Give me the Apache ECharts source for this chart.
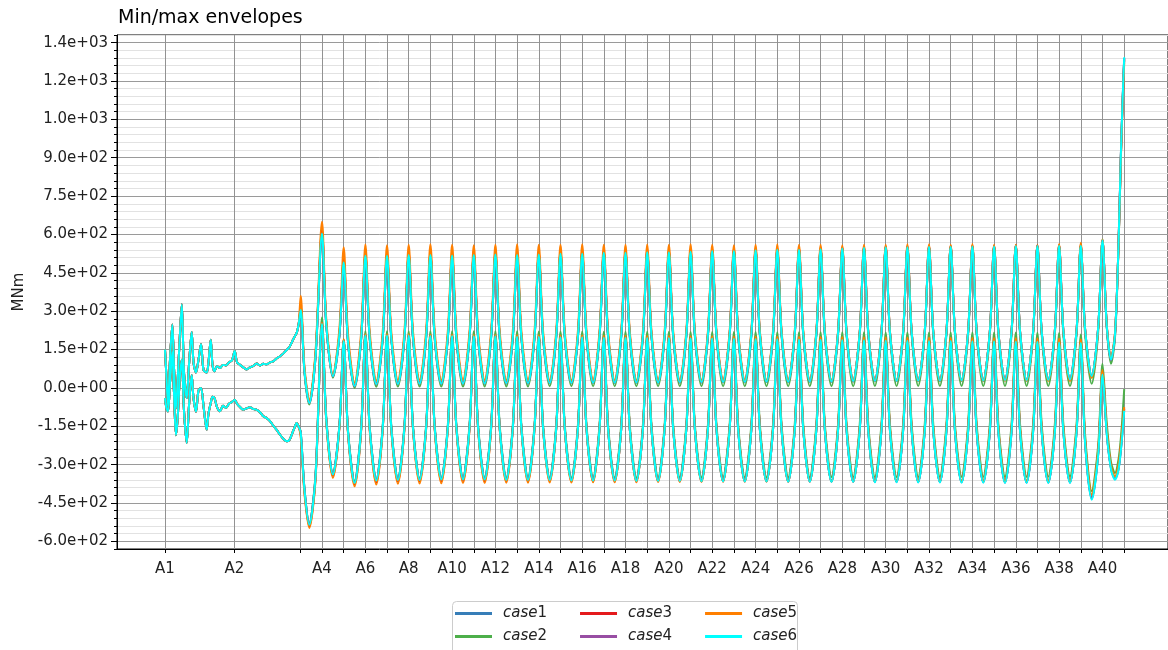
<!DOCTYPE html>
<html><head><meta charset="utf-8">
<script src="https://cdn.jsdelivr.net/npm/echarts@6/dist/echarts.min.js"></script>
<style>html,body{margin:0;padding:0;background:#fff}#c{width:1168px;height:650px}</style>
</head><body><div id="c"></div>
<script>
const stationNames = ['A1','A2','A3','A4','A5','A6','A7','A8','A9','A10','A11','A12','A13','A14','A15','A16','A17','A18','A19','A20','A21','A22','A23','A24','A25','A26','A27','A28','A29','A30','A31','A32','A33','A34','A35','A36','A37','A38','A39','A40','A41'];
const stationPos = [0, 69.5, 135.7, 157.0, 178.7, 200.4, 222.0, 243.7, 265.4, 287.1, 308.8, 330.4, 352.1, 373.8, 395.5, 417.2, 438.8, 460.5, 482.2, 503.9, 525.6, 547.2, 568.9, 590.6, 612.3, 634.0, 655.6, 677.3, 699.0, 720.7, 742.4, 764.0, 785.7, 807.4, 829.1, 850.8, 872.4, 894.1, 915.8, 937.5, 959.2];
const labeledStations = ['A1','A2','A4','A6','A8','A10','A12','A14','A16','A18','A20','A22','A24','A26','A28','A30','A32','A34','A36','A38','A40'];
const yTickValues = [-600, -450, -300, -150, 0, 150, 300, 450, 600, 750, 900, 1050, 1200, 1350];
const yTickLabels = ['-6.0e+02','-4.5e+02','-3.0e+02','-1.5e+02','0.0e+00','1.5e+02','3.0e+02','4.5e+02','6.0e+02','7.5e+02','9.0e+02','1.0e+03','1.2e+03','1.4e+03'];
const caseNames = ['case1','case2','case3','case4','case5','case6'];
const caseColors = ['#377eb8','#4daf4a','#e41a1c','#984ea3','#ff7f00','#00ffff'];

// A1..A3 region (all cases coincide)
const xLeft = [0,1.5,3,5,7.3,9,11,12.8,14.8,16.8,19,21.7,24,26.7,28.5,31,33.5,36,38.5,41.7,43.5,45.7,47.5,49.5,52,55,58,61,64,67,69.7,72,75,78.3,81.5,85,88,91.7,95,98.3,101.7,105,108.3,111.5,115,118.5,121.7,124.5,127,129.5,131.7,133.7];
const leftMaxAll = [150,40,-70,110,248,80,-80,40,200,327,60,-40,90,219,100,60,110,172,70,60,100,188,90,65,85,78,90,88,100,108,144,100,90,80,72,80,85,95,88,94,92,100,104,115,124,135,148,160,180,200,215,250];
const leftMinAll = [-40,-80,-92,20,140,-20,-185,-110,40,110,-90,-215,-70,50,-40,-93,-10,0,-70,-163,-100,-60,-35,-40,-75,-91,-70,-78,-62,-55,-46,-62,-75,-85,-80,-76,-82,-86,-95,-111,-118,-130,-148,-163,-183,-200,-209,-203,-180,-155,-137,-152];

// A3..A41 region
const xRight = [135.7,139.5,144.3,150.5,
157.0,161.3,167.9,174.4, 178.7,183.0,189.6,196.1, 200.4,204.7,211.3,217.7, 222.0,226.3,232.9,239.4,
243.7,248.0,254.6,261.1, 265.4,269.7,276.3,282.8, 287.1,291.4,298.0,304.5, 308.8,313.1,319.7,326.1,
330.4,334.7,341.3,347.8, 352.1,356.4,363.0,369.5, 373.8,378.1,384.7,391.2, 395.5,399.8,406.4,412.9,
417.2,421.5,428.1,434.5, 438.8,443.1,449.7,456.2, 460.5,464.8,471.4,477.9, 482.2,486.5,493.1,499.6,
503.9,508.2,514.8,521.3, 525.6,529.9,536.5,542.9, 547.2,551.5,558.1,564.6, 568.9,573.2,579.8,586.3,
590.6,594.9,601.5,608.0, 612.3,616.6,623.2,629.7, 634.0,638.3,644.8,651.3, 655.6,659.9,666.5,673.0,
677.3,681.6,688.2,694.7, 699.0,703.3,709.9,716.4, 720.7,725.0,731.6,738.1, 742.4,746.7,753.2,759.7,
764.0,768.3,774.9,781.4, 785.7,790.0,796.6,803.1, 807.4,811.7,818.3,824.8, 829.1,833.4,840.0,846.5,
850.8,855.1,861.6,868.1, 872.4,876.7,883.3,889.8, 894.1,898.4,905.0,911.5, 915.8,920.1,926.7,933.2,
937.5,941.8,946.0,950.0,953.5,956.0,958.0,959.2];

const case1Max = [300,63,-60,118,
598,245,45,204, 488,180,6,190, 515,194,13,194, 515,195,14,196, 518,196,15,196, 518,196,15,196, 516,196,16,197, 518,197,16,198, 520,198,17,198,
518,198,17,198, 520,199,18,200, 523,200,18,200, 523,201,19,202, 526,202,19,202, 526,203,20,203, 528,203,20,203, 528,204,21,205, 530,205,21,206,
533,206,22,206, 533,206,22,207, 536,208,23,209, 538,209,23,209, 538,209,24,210, 540,210,24,211, 543,212,25,213, 546,214,26,214, 548,214,26,214,
548,215,27,216, 550,216,27,216, 550,216,28,217, 551,217,28,217, 551,217,29,218, 553,218,29,218, 553,219,30,219, 554,220,32,220, 554,229,45,236,
575,238,110,207,555,925,1165,1288];
const case1Min = [-174,-398,-532,-348,
248,-126,-337,-150, 182,-171,-370,-163, 204,-157,-360,-157, 204,-156,-358,-156, 204,-156,-358,-156, 202,-155,-356,-155, 202,-155,-356,-155, 201,-155,-356,-155, 201,-157,-358,-157,
199,-157,-358,-157, 199,-157,-358,-158, 197,-159,-360,-159, 197,-159,-360,-160, 195,-160,-360,-160, 195,-161,-362,-161, 194,-161,-362,-161, 194,-161,-362,-161, 193,-163,-363,-163,
192,-163,-363,-163, 191,-164,-364,-164, 190,-164,-364,-164, 189,-165,-365,-165, 188,-165,-365,-165, 187,-167,-366,-167, 186,-167,-366,-167, 185,-168,-367,-168, 184,-168,-367,-168,
183,-169,-368,-169, 182,-169,-368,-169, 182,-171,-369,-171, 181,-171,-369,-171, 181,-172,-370,-172, 180,-172,-370,-172, 179,-172,-370,-173, 177,-173,-370,-174, 175,-214,-434,-259,
51,-180,-315,-356,-318,-238,-148,-88];

const case2Max = [320,60,-65,130,
620,249,40,207, 505,182,0,188, 522,190,4,190, 522,191,5,191, 524,192,5,192, 524,192,5,191, 522,191,5,192, 524,192,5,193, 526,193,5,192,
524,192,5,193, 526,193,6,195, 530,195,6,195, 530,195,6,196, 532,196,6,196, 532,196,6,197, 534,197,6,197, 534,197,6,198, 536,198,6,199,
538,199,6,199, 538,199,6,200, 541,200,6,201, 543,201,6,201, 543,201,6,202, 545,202,6,203, 548,203,6,204, 551,204,7,205, 553,205,7,205,
553,205,7,206, 555,206,7,206, 555,206,7,206, 556,207,7,207, 556,207,7,207, 558,208,7,208, 558,208,7,208, 559,206,7,206, 559,211,16,219,
580,235,94,195,550,920,1160,1280];
const case2Min = [-170,-395,-530,-340,
275,-115,-335,-146, 190,-165,-365,-154, 222,-149,-358,-149, 222,-147,-355,-147, 222,-146,-354,-146, 222,-146,-353,-146, 222,-145,-352,-145, 222,-145,-352,-145, 222,-145,-352,-145,
222,-145,-352,-145, 221,-145,-352,-145, 221,-145,-352,-145, 221,-145,-351,-145, 220,-145,-351,-145, 220,-145,-351,-145, 220,-145,-351,-145, 220,-145,-350,-145, 219,-145,-350,-145,
219,-145,-350,-145, 219,-145,-350,-145, 219,-145,-350,-145, 218,-145,-350,-145, 218,-145,-350,-145, 218,-145,-349,-145, 218,-144,-349,-144, 218,-144,-349,-144, 217,-145,-349,-145,
217,-145,-349,-145, 217,-144,-348,-144, 217,-144,-348,-144, 217,-144,-348,-144, 217,-144,-348,-144, 217,-144,-348,-144, 216,-144,-347,-144, 215,-144,-346,-146, 209,-183,-404,-225,
94,-140,-290,-333,-280,-190,-80,-5];

const case3Max = [318,70,-55,125,
615,252,48,210, 505,186,10,195, 527,199,18,199, 527,200,19,201, 530,201,20,201, 530,201,20,201, 528,201,21,202, 530,202,21,203, 532,203,22,203,
530,203,22,203, 532,204,23,205, 535,205,23,205, 535,206,24,207, 538,207,24,207, 538,208,25,208, 540,208,25,208, 540,209,26,210, 542,210,26,211,
545,211,27,211, 545,211,27,212, 547,213,27,213, 548,213,27,213, 548,213,28,214, 549,214,28,215, 551,215,28,216, 553,217,28,217, 555,217,28,217,
555,218,28,218, 556,218,28,218, 556,218,29,219, 557,219,29,219, 557,219,30,220, 558,220,30,220, 558,220,31,221, 559,222,30,222, 560,230,42,236,
578,242,114,212,558,925,1160,1285];
const case3Min = [-182,-408,-541,-356,
252,-130,-345,-154, 186,-175,-378,-167, 207,-161,-370,-162, 207,-160,-367,-160, 207,-160,-366,-160, 205,-159,-365,-159, 205,-158,-365,-159, 204,-159,-365,-159, 204,-159,-365,-159,
203,-159,-365,-159, 203,-159,-365,-160, 201,-160,-366,-160, 201,-160,-366,-161, 200,-160,-366,-160, 200,-161,-366,-161, 199,-161,-366,-161, 199,-160,-366,-161, 198,-162,-366,-162,
197,-162,-366,-162, 196,-162,-366,-162, 196,-162,-366,-162, 195,-163,-367,-163, 194,-163,-367,-163, 193,-164,-367,-164, 193,-164,-367,-164, 192,-165,-367,-165, 191,-165,-367,-165,
190,-165,-367,-165, 190,-165,-367,-165, 189,-166,-368,-166, 189,-166,-368,-166, 188,-166,-368,-166, 188,-167,-368,-167, 187,-167,-368,-168, 185,-167,-368,-169, 183,-208,-427,-252,
60,-174,-312,-352,-310,-228,-138,-82];

const case4Max = [308,64,-60,119,
606,246,45,205, 493,180,6,190, 519,194,13,194, 519,195,14,196, 522,196,15,196, 522,196,15,196, 520,196,16,197, 522,197,16,198, 524,198,17,198,
522,198,17,198, 524,199,18,200, 527,200,18,200, 527,201,19,202, 530,202,19,202, 530,203,20,203, 532,203,20,203, 532,204,21,205, 534,205,21,206,
537,206,22,206, 537,206,22,207, 540,208,23,209, 542,209,23,209, 542,209,24,210, 544,210,24,211, 547,212,25,213, 550,214,26,214, 552,214,26,214,
552,215,27,216, 554,216,27,216, 554,216,28,217, 555,217,28,217, 555,217,29,218, 557,218,29,218, 557,219,30,219, 558,220,32,220, 558,229,45,236,
578,239,109,207,558,928,1168,1290];
const case4Min = [-173,-398,-532,-348,
252,-126,-337,-150, 185,-171,-370,-163, 207,-157,-360,-157, 207,-156,-358,-156, 207,-156,-358,-156, 205,-155,-356,-155, 205,-155,-356,-155, 204,-155,-356,-155, 204,-157,-358,-157,
202,-157,-358,-157, 202,-157,-358,-158, 200,-159,-360,-159, 200,-159,-360,-160, 198,-160,-360,-160, 198,-161,-362,-161, 197,-161,-362,-161, 197,-161,-362,-161, 196,-163,-363,-163,
195,-163,-363,-163, 194,-164,-364,-164, 193,-164,-364,-164, 192,-165,-365,-165, 191,-165,-365,-165, 190,-167,-366,-167, 189,-167,-366,-167, 188,-168,-367,-168, 187,-168,-367,-168,
186,-169,-368,-169, 185,-169,-368,-169, 185,-171,-369,-171, 184,-171,-369,-171, 184,-172,-370,-172, 183,-172,-370,-172, 182,-172,-370,-173, 180,-173,-370,-174, 178,-212,-430,-256,
60,-176,-312,-352,-314,-232,-140,-80];

const case5Max = [360,80,-46,140,
650,267,52,231, 550,211,20,215, 561,220,28,219, 558,219,30,220, 560,221,31,222, 562,222,31,221, 560,221,31,220, 558,220,31,221, 560,221,30,222,
562,222,30,221, 560,221,30,221, 560,221,30,222, 562,222,30,221, 560,221,30,221, 560,221,30,221, 561,221,30,221, 560,221,30,222, 562,222,30,221,
560,221,30,220, 558,220,30,221, 560,221,30,222, 562,222,30,221, 560,221,30,221, 560,221,29,219, 558,219,29,220, 560,220,29,220, 560,220,29,221,
562,221,28,220, 562,220,28,220, 560,220,28,221, 563,221,28,219, 560,219,28,219, 560,219,28,218, 558,218,27,220, 563,219,26,221, 568,229,39,234,
580,245,118,215,555,915,1150,1270];
const case5Min = [-190,-415,-548,-362,
255,-133,-352,-157, 190,-178,-385,-171, 210,-166,-378,-166, 210,-163,-375,-163, 210,-162,-374,-162, 208,-162,-373,-162, 208,-161,-372,-162, 207,-162,-372,-162, 207,-161,-371,-161,
206,-161,-371,-161, 206,-160,-370,-161, 205,-161,-370,-161, 205,-160,-369,-161, 204,-160,-369,-160, 204,-160,-369,-160, 203,-160,-368,-160, 203,-159,-368,-160, 202,-160,-368,-160,
202,-159,-367,-159, 201,-159,-367,-160, 201,-159,-367,-159, 200,-160,-367,-160, 200,-159,-366,-160, 199,-159,-366,-159, 199,-159,-366,-160, 198,-160,-366,-160, 198,-159,-365,-159,
197,-159,-365,-160, 197,-159,-365,-159, 196,-160,-365,-160, 196,-159,-365,-160, 195,-160,-365,-160, 195,-160,-365,-160, 194,-160,-365,-161, 193,-160,-365,-162, 190,-199,-417,-242,
70,-165,-305,-346,-300,-215,-125,-75];

const case6Max = [305,65,-59,120,
603,247,46,206, 490,181,7,191, 517,195,14,195, 517,196,15,197, 520,197,16,197, 520,197,16,197, 518,197,17,198, 520,198,17,199, 522,199,18,199,
520,199,18,199, 522,200,19,201, 525,201,19,201, 525,202,20,203, 528,203,20,203, 528,204,21,204, 530,204,21,204, 530,205,22,206, 532,206,22,207,
535,207,23,207, 535,207,23,208, 538,209,24,210, 540,210,24,210, 540,210,25,211, 542,211,25,212, 545,213,26,214, 548,215,27,215, 550,215,27,215,
550,216,28,217, 552,217,28,217, 552,217,29,218, 553,218,29,218, 553,218,30,219, 555,219,30,219, 555,220,31,220, 556,221,33,221, 556,230,46,237,
577,240,111,209,560,930,1170,1293];
const case6Min = [-175,-400,-535,-350,
250,-127,-339,-151, 183,-172,-372,-164, 205,-158,-362,-158, 205,-157,-360,-157, 205,-157,-360,-157, 203,-156,-358,-156, 203,-156,-358,-156, 202,-156,-358,-156, 202,-158,-360,-158,
200,-158,-360,-158, 200,-158,-360,-159, 198,-160,-362,-160, 198,-160,-362,-161, 196,-161,-362,-161, 196,-162,-364,-162, 195,-162,-364,-162, 195,-162,-364,-162, 194,-164,-365,-164,
193,-164,-365,-164, 192,-165,-366,-165, 191,-165,-366,-165, 190,-166,-367,-166, 189,-166,-367,-166, 188,-168,-368,-168, 187,-168,-368,-168, 186,-169,-369,-169, 185,-169,-369,-169,
184,-170,-370,-170, 183,-170,-370,-170, 183,-172,-371,-172, 182,-172,-371,-172, 182,-173,-372,-173, 181,-173,-372,-173, 180,-173,-372,-174, 178,-174,-372,-175, 176,-216,-437,-261,
52,-182,-318,-359,-320,-240,-150,-90];

const caseMax = [case1Max, case2Max, case3Max, case4Max, case5Max, case6Max];
const caseMin = [case1Min, case2Min, case3Min, case4Min, case5Min, case6Min];

const FONT = 'DejaVu Sans';
const xAll = xLeft.concat(xRight);
function toPoints(left, right) {
  const v = left.concat(right);
  return xAll.map((x, i) => [x, v[i]]);
}
function stationName(v) {
  for (let i = 0; i < stationPos.length; i++) if (Math.abs(stationPos[i] - v) < 0.05) return stationNames[i];
  return '';
}
const labeledPos = labeledStations.map(n => stationPos[stationNames.indexOf(n)]);
function yLabel(v) {
  const r = Math.round(v);
  const i = yTickValues.indexOf(r);
  return i >= 0 ? yTickLabels[i] : '';
}
// split line colours: ticks every 30 from -630; majors at multiples of 150
const yGridColors = ['#e2e2e2', '#9a9a9a', '#e2e2e2', '#e2e2e2', '#e2e2e2'];

const series = [];
caseNames.forEach((name, k) => {
  const common = {
    type: 'line', name: name, showSymbol: false, symbol: 'none', smooth: 0.3,
    color: caseColors[k], lineStyle: { width: 2, color: caseColors[k] },
    emphasis: { disabled: true }, animation: false, sampling: null
  };
  series.push(Object.assign({}, common, { data: toPoints(leftMaxAll, caseMax[k]) }));
  series.push(Object.assign({}, common, { data: toPoints(leftMinAll, caseMin[k]) }));
});

const legendCommon = {
  orient: 'horizontal', icon: 'rect', itemWidth: 37, itemHeight: 3, itemGap: 33,
  padding: 0, selectedMode: false,
  formatter: n => '{i|case}{n|' + n.slice(4) + '}',
  textStyle: {
    fontSize: 15, color: '#222', fontFamily: FONT,
    rich: {
      i: { fontStyle: 'italic', fontSize: 15, fontFamily: FONT, color: '#222', padding: [0, 0, 0, 6] },
      n: { fontSize: 15, fontFamily: FONT, color: '#222' }
    }
  }
};

const chart = echarts.init(document.getElementById('c'), null, { renderer: 'canvas' });
chart.setOption({
  animation: false,
  backgroundColor: '#fff',
  title: { text: 'Min/max envelopes', left: 118, top: 9, padding: 0,
    textStyle: { fontSize: 19, fontWeight: 'normal', color: '#000', fontFamily: FONT } },
  grid: { left: 117, right: -1, top: 35, bottom: 101, show: true, borderColor: '#000', borderWidth: 1, backgroundColor: 'transparent' },
  xAxis: {
    type: 'value', min: -48, max: 1003,
    axisLine: { show: true, onZero: false, lineStyle: { color: '#000' } },
    axisTick: { show: true, length: 4, customValues: stationPos, lineStyle: { color: '#000' } },
    axisLabel: { customValues: labeledPos, formatter: v => stationName(v), fontSize: 15, color: '#222', fontFamily: FONT, margin: 13 },
    splitLine: { show: true, lineStyle: { color: '#929292', width: 1 } }
  },
  yAxis: [{
    type: 'value', min: -630, max: 1380, interval: 30,
    axisLine: { show: true, onZero: false, lineStyle: { color: '#000' } },
    axisTick: { show: true, length: 3, lineStyle: { color: '#000' } },
    axisLabel: { formatter: v => yLabel(v), fontSize: 15, color: '#222', fontFamily: FONT, margin: 9 },
    splitLine: { show: true, lineStyle: { color: yGridColors, width: 1 } },
    name: 'MNm', nameLocation: 'middle', nameGap: 90,
    nameTextStyle: { fontSize: 15, color: '#222', fontFamily: FONT }
  }, {
    type: 'value', min: -630, max: 1380, position: 'left',
    axisLine: { show: false, onZero: false },
    axisTick: { show: true, length: 6, customValues: yTickValues, lineStyle: { color: '#000' } },
    axisLabel: { show: false },
    splitLine: { show: false }
  }],
  legend: [
    Object.assign({}, legendCommon, { data: ['case1', 'case3', 'case5'], left: 455, top: 606 }),
    Object.assign({}, legendCommon, { data: ['case2', 'case4', 'case6'], left: 455, top: 629 })
  ],
  graphic: [{
    type: 'rect', left: 452, top: 601, silent: true, z: 0,
    shape: { width: 345, height: 60, r: 4 },
    style: { fill: '#fff', stroke: '#cccccc', lineWidth: 1 }
  }],
  series: series
});
</script>
</body></html>
